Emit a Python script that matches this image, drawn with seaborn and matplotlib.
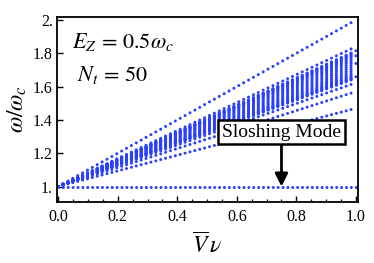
import numpy as np
import pandas as pd
import matplotlib
matplotlib.use("Agg")
import matplotlib.pyplot as plt
import seaborn as sns
from matplotlib.ticker import MultipleLocator

# ---------------- data ----------------
# every mode is a straight line starting at omega/omega_c = 1 at Vnu = 0
v_nu = [0.0, 1.0]
omega_start = 1.0
top_mode_end = 2.00
upper_mode_end = 1.84
band_mode_ends = [1.650, 1.654, 1.659, 1.665, 1.672, 1.680, 1.690, 1.701,
                  1.713, 1.726, 1.739, 1.752, 1.764, 1.775, 1.785, 1.793,
                  1.800, 1.806, 1.811, 1.815]
lower_mode_ends = [1.623, 1.57, 1.47]
sloshing_mode_end = 1.0

x_ticks = [0.0, 0.2, 0.4, 0.6, 0.8, 1.0]
x_tick_labels = ["0.0", "0.2", "0.4", "0.6", "0.8", "1.0"]
y_ticks = [1.0, 1.2, 1.4, 1.6, 1.8, 2.0]
y_tick_labels = ["1.", "1.2", "1.4", "1.6", "1.8", "2."]

annot_text = "Sloshing Mode"
annot_xy = (0.75, 1.0)
annot_text_xy = (0.75, 1.327)

# ---------------- table ----------------
all_ends = [top_mode_end, upper_mode_end] + band_mode_ends + lower_mode_ends + [sloshing_mode_end]
rows = []
for i, end in enumerate(all_ends):
    rows.append({"mode": i, "Vnu": v_nu[0], "omega": omega_start})
    rows.append({"mode": i, "Vnu": v_nu[1], "omega": end})
df = pd.DataFrame(rows)

# ---------------- style ----------------
sns.set_style("ticks")
plt.rcParams.update({
    "font.family": ["Liberation Serif", "DejaVu Serif"],
    "mathtext.fontset": "stix",
    "lines.scale_dashes": False,
    "xtick.direction": "in",
    "ytick.direction": "in",
})
BLUE = "#2b40ff"
DPI = 100
DOT_STEPS = 61      # dots per unit of Vnu (visual spacing only)
LW = 2.2

fig = plt.figure(figsize=(3.74, 2.63), dpi=DPI)
ax = fig.add_axes([57 / 374, 61 / 263, 301 / 374, 185 / 263])
ax.set_xlim(-0.004, 1.007)
ax.set_ylim(0.907, 2.018)

sns.lineplot(data=df, x="Vnu", y="omega", units="mode", estimator=None,
             sort=False, color=BLUE, linewidth=LW, legend=False, ax=ax)

# dotted style: dots aligned in vertical columns, like sampled points
for line in ax.lines:
    xy = line.get_xydata()
    p = ax.transData.transform(xy)
    length_px = np.hypot(*(p[-1] - p[0]))
    period_pt = length_px / DOT_STEPS * 72.0 / DPI
    line.set_dashes([0.01, period_pt - 0.01])
    line.set_dash_capstyle("round")
    line.set_solid_capstyle("round")

ax.set_xticks(x_ticks, labels=x_tick_labels)
ax.set_yticks(y_ticks, labels=y_tick_labels)
ax.xaxis.set_minor_locator(MultipleLocator(0.05))
ax.tick_params(axis="both", which="major", length=4, width=1.0, color="black",
               labelsize=11.5, labelcolor="black", direction="in")
ax.tick_params(axis="x", which="minor", length=2.2, width=0.9, color="black", direction="in")
ax.tick_params(axis="x", pad=5)
ax.tick_params(axis="y", pad=3)
for s in ax.spines.values():
    s.set_linewidth(1.3)
    s.set_color("black")

ax.set_xlabel(r"$\overline{V}\,\nu$", fontsize=17, labelpad=5, color="black")
ax.set_ylabel(r"$\omega/\omega_c$", fontsize=17, labelpad=3, color="black")

ax.text(0.05, 0.83, r"$E_Z\,{=}\,0.5\omega_c$", transform=ax.transAxes,
        fontsize=16, va="baseline", ha="left", color="black")
ax.text(0.066, 0.654, r"$N_t\,{=}\,50$", transform=ax.transAxes,
        fontsize=16, va="baseline", ha="left", color="black")

ax.annotate(annot_text, xy=annot_xy, xytext=annot_text_xy,
            ha="center", va="center", fontsize=14, color="black", zorder=10,
            bbox=dict(boxstyle="square,pad=0.2", fc="white", ec="black", lw=1.8),
            arrowprops=dict(arrowstyle="-|>", color="black", lw=2.0,
                            mutation_scale=19, shrinkA=0, shrinkB=0))

fig.savefig("out.png", dpi=DPI)
